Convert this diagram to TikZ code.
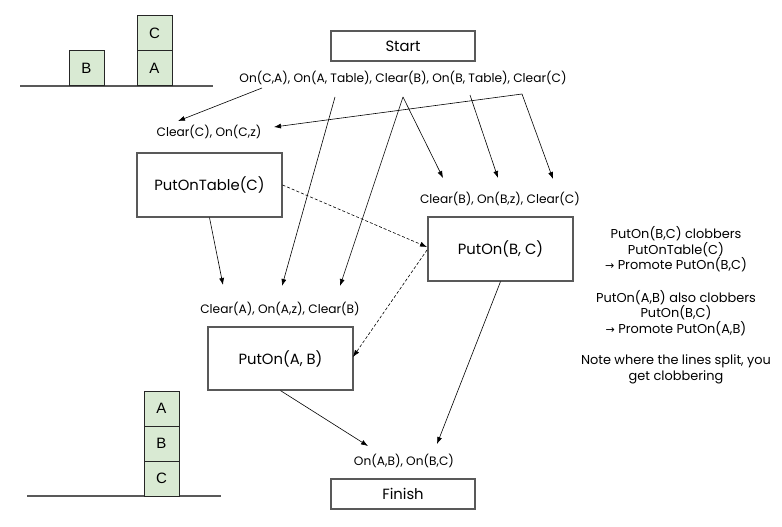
\documentclass[tikz,border=0pt]{standalone}
\usepackage{fontspec}
\setmainfont{Poppins}
\newfontfamily\blockfont{Liberation Sans}
\newfontfamily\symfont{DejaVu Sans}
\usetikzlibrary{arrows.meta}
\definecolor{blockgreen}{HTML}{D9EAD3}
\definecolor{boxgray}{HTML}{595959}
\tikzset{
  blk/.style={draw=black!85, line width=0.8pt, fill=blockgreen, minimum width=35pt, minimum height=35pt, inner sep=0pt, font=\blockfont\fontsize{15}{15}\selectfont},
  ground/.style={draw=boxgray, line width=1.3pt},
  opbox/.style={draw=boxgray, line width=1.2pt, inner sep=0pt, font=\fontsize{14.8}{14.8}\selectfont},
  cond/.style={inner sep=0pt, font=\fontsize{12.2}{12.2}\selectfont},
  note/.style={inner sep=0pt, align=center, font=\fontsize{12.9}{15.5}\selectfont},
  arr/.style={-{Latex[length=7pt,width=5pt]}, line width=0.6pt},
  darr/.style={arr, dashed, dash pattern=on 3pt off 2pt}
}
\begin{document}
\begin{tikzpicture}[x=1pt,y=-1pt]
\useasboundingbox (0,0) rectangle (782,527);
% top-left blocks
\draw[ground] (20,86) -- (213,86);
\node[blk] (bB) at (86.5,68) {B};
\node[blk] (bA) at (154.5,68) {A};
\node[blk] (bC) at (154.5,33) {C};
% bottom-left blocks
\draw[ground] (27,496) -- (221,496);
\node[blk] (gC) at (161.5,478.5) {C};
\node[blk] (gB) at (161.5,443.5) {B};
\node[blk] (gA) at (161.5,408.5) {A};
% boxes
\node[opbox, minimum width=144pt, minimum height=30pt] (start) at (403,46) {Start};
\node[opbox, minimum width=145pt, minimum height=64pt] (pot) at (209.5,185) {PutOnTable(C)};
\node[opbox, minimum width=145pt, minimum height=64pt] (pbc) at (500.5,249) {PutOn(B, C)};
\node[opbox, minimum width=145pt, minimum height=63pt] (pab) at (280.5,358.5) {PutOn(A, B)};
\node[opbox, minimum width=144pt, minimum height=30pt] (finish) at (403,494) {Finish};
% conditions
\node[cond] (init) at (403,78) {On(C,A), On(A, Table), Clear(B), On(B, Table), Clear(C)};
\node[cond] (precC) at (209,132) {Clear(C), On(C,z)};
\node[cond] (precB) at (500,199) {Clear(B), On(B,z), Clear(C)};
\node[cond] (precA) at (280,309) {Clear(A), On(A,z), Clear(B)};
\node[cond] (goal) at (404,461) {On(A,B), On(B,C)};
% split points
\coordinate (s1) at (262,88);
\coordinate (s2) at (522,94);
\coordinate (s3) at (470,95);
\coordinate (s4) at (403,97);
\coordinate (s5) at (335,97);
\coordinate (t1) at (178,121);
\coordinate (t2) at (274,127);
\coordinate (t3) at (553,179);
\coordinate (t4) at (498,178);
\coordinate (t5) at (443,178);
\coordinate (t6) at (340,286);
\coordinate (t7) at (282,286);
\coordinate (t8) at (223,285);
\coordinate (t9) at (437,444);
\coordinate (t10) at (368,446);
\coordinate (t11) at (427,247);
\coordinate (u1) at (427,250);
\coordinate (t12) at (353,357);
% arrows
\draw[arr] (s1) -- (t1);
\draw[arr] (s2) -- (t2);
\draw[arr] (s2) -- (t3);
\draw[arr] (s3) -- (t4);
\draw[arr] (s4) -- (t5);
\draw[arr] (s4) -- (t6);
\draw[arr] (s5) -- (t7);
\draw[arr] (pot.south) -- (t8);
\draw[darr] (pot.east) -- (t11);
\draw[darr] (u1) -- (t12);
\draw[arr] (pbc.south) -- (t9);
\draw[arr] (pab.south) -- (t10);
% notes
\node[note] (n1) at (676,249.5) {PutOn(B,C) clobbers\\PutOnTable(C)\\{\symfont\fontsize{11}{11}\selectfont →} Promote PutOn(B,C)};
\node[note] (n2) at (676,313) {PutOn(A,B) also clobbers\\PutOn(B,C)\\{\symfont\fontsize{11}{11}\selectfont →} Promote PutOn(A,B)};
\node[note] (n3) at (676,369.5) {Note where the lines split, you\\get clobbering};
\end{tikzpicture}
\end{document}
